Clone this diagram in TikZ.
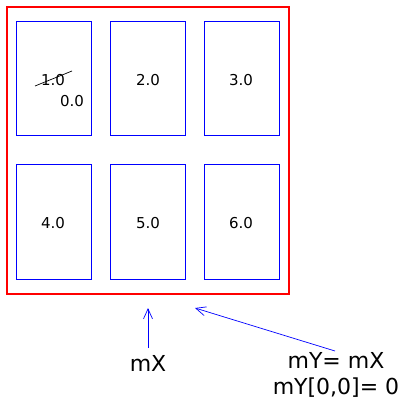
\documentclass[tikz,border=0pt]{standalone}
\usepackage{fontspec}
\setmainfont{DejaVu Sans}
\usetikzlibrary{arrows.meta}
\begin{document}
\begin{tikzpicture}[
        x=1pt, y=-1pt,
        frame/.style={draw=red, line width=1.1pt, inner sep=0pt, outer sep=0pt,
          minimum width=282pt, minimum height=287pt},
        cell/.style={draw=blue, line width=1pt, inner sep=0pt, outer sep=0pt,
          minimum width=75pt, minimum height=114pt},
        val/.style={font=\fontsize{15}{18}\selectfont},
        lbl/.style={font=\fontsize{22}{26}\selectfont, align=center},
        ptr/.style={draw=blue, line width=0.7pt, -{Straight Barb[length=10pt,width=9pt]}},
        ]
        \useasboundingbox (0,0) rectangle (403,403);

        % Cells
        \node[cell] (c1) at (53.5,79) {};
        \node[cell] (c2) at (147.5,79) {};
        \node[cell] (c3) at (241.5,79) {};
        \node[cell] (c4) at (53.5,222) {};
        \node[cell] (c5) at (147.5,222) {};
        \node[cell] (c6) at (241.5,222) {};

        % Outer array
        \node[frame] (arr) at (148,150.5) {};

        % Values
        \node[val] (v1) at (53,80) {1.0};
        \node[val] (v0) at (72,101) {0.0};
        \node[val] (v2) at (148,80) {2.0};
        \node[val] (v3) at (241,80) {3.0};
        \node[val] (v4) at (53,223) {4.0};
        \node[val] (v5) at (148,223) {5.0};
        \node[val] (v6) at (241,223) {6.0};

        % Crossed out
        \draw[line width=0.7pt] (35,86) -- (72,71);

        % Names
        \node[lbl] (mx) at (148,363) {mX};
        \node[lbl] (my) at (336,375) {mY= mX\\mY[0,0]= 0};

        % Pointers
        \coordinate (px) at (148,308);
        \coordinate (py) at (195,308);
        \draw[ptr] (148,348) -- (px);
        \draw[ptr] (335,351) -- (py);
    \end{tikzpicture}
\end{document}
